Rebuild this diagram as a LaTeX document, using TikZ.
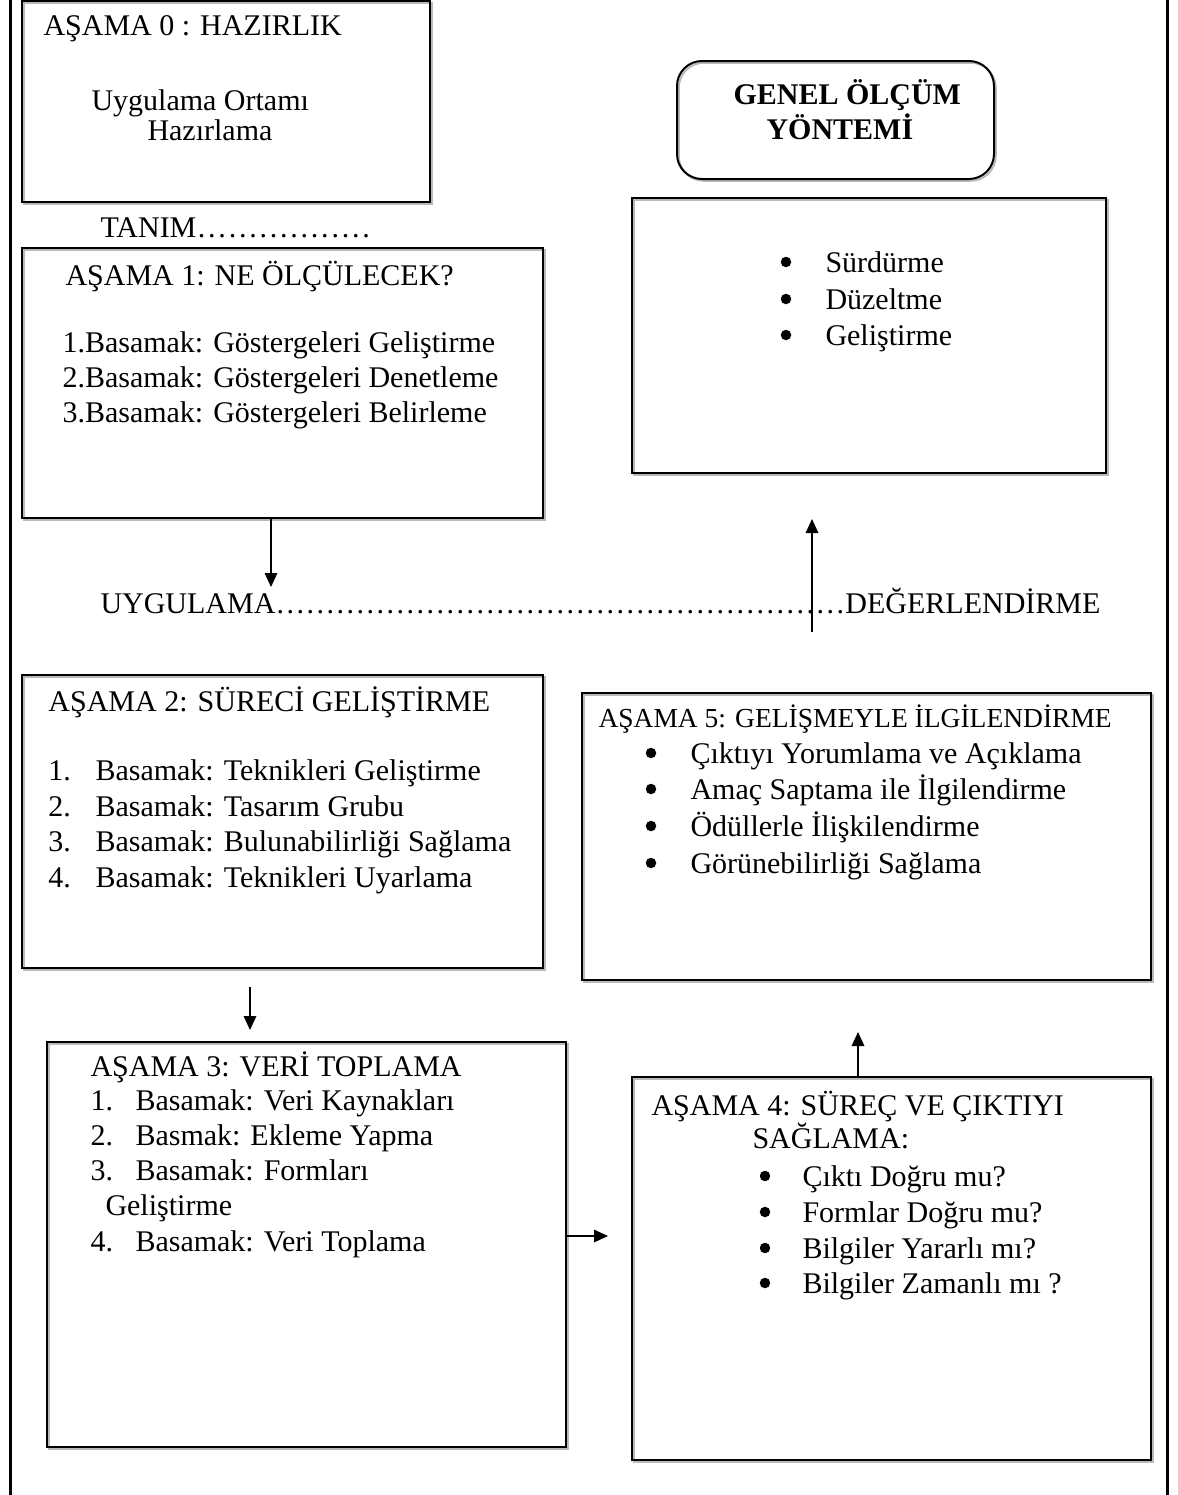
\documentclass[tikz,border=0pt]{standalone}
\usepackage{fontspec}
\setmainfont{Liberation Serif}
\usetikzlibrary{arrows.meta,fit}
\tikzset{
  box/.style={draw, line width=0.8pt, inner sep=0pt,
    preaction={draw=gray!55, line width=0.8pt, transform canvas={shift={(0.7pt,-0.7pt)}}}},
  txt/.style={anchor=base west, inner sep=0pt, font=\fontsize{12pt}{14pt}\selectfont},
  bul/.style={circle, fill=black, draw=none, inner sep=0pt, minimum size=4.2pt},
  conn/.style={line width=0.7pt, -{Triangle[length=5.6pt,width=5pt]}},
  frameline/.style={line width=1.2pt}
}
\newcommand{\dotrun}[1]{\hbox to #1{\xleaders\hbox to 4pt{\hss.\hss}\hfill}}
\begin{document}
\begin{tikzpicture}[x=0.4pt,y=-0.4pt]
\useasboundingbox (0,0) rectangle (1178,1495);
% outer frame
\draw[frameline] (10,0) -- (10,1495);
\draw[frameline] (1167,0) -- (1167,1495);

% Box 0
\node[box, fit={(22,1)(430,202)}] (b0) {};
\node[txt] (t0) at (43,35) {AŞAMA 0 : HAZIRLIK};
\node[txt] (t0a) at (91,110) {Uygulama Ortamı};
\node[txt] (t0b) at (147,140) {Hazırlama};
\node[txt] (tanim) at (100,237) {TANIM\dotrun{70pt}};

% Box 1
\node[box, fit={(22,248)(543,518)}] (b1) {};
\node[txt] (t1) at (65,285) {AŞAMA 1: NE ÖLÇÜLECEK?};
\node[txt] (t1a) at (62,352) {1.Basamak: Göstergeleri Geliştirme};
\node[txt] (t1b) at (62,387) {2.Basamak: Göstergeleri Denetleme};
\node[txt] (t1c) at (62,422) {3.Basamak: Göstergeleri Belirleme};

% Genel olcum
\node[box, rounded corners=10pt, fit={(677,61)(994,179)}] (gen) {};
\node[txt, font=\fontsize{12pt}{14pt}\selectfont\bfseries] (g1) at (733,104) {GENEL ÖLÇÜM};
\node[txt, font=\fontsize{12pt}{14pt}\selectfont\bfseries] (g2) at (766,139) {YÖNTEMİ};

% Box R
\node[box, fit={(632,198)(1106,473)}] (br) {};
\node[bul] (rb1) at (786,262) {};
\node[txt] (rt1) at (825,272) {Sürdürme};
\node[bul] (rb2) at (786,299) {};
\node[txt] (rt2) at (825,309) {Düzeltme};
\node[bul] (rb3) at (786,335) {};
\node[txt] (rt3) at (825,345) {Geliştirme};

% arrows middle
\coordinate (a1) at (271,587);
\draw[conn] (b1.south -| a1) -- (a1);
\node[txt] (mid) at (100,613) {UYGULAMA\dotrun{228pt}DEĞERLENDİRME};
\coordinate (u0) at (812,632);
\coordinate (u1) at (812,519);
\draw[conn] (u0) -- (u1);

% Box 2
\node[box, fit={(22,675)(543,968)}] (b2) {};
\node[txt] (t2) at (48,711) {AŞAMA 2: SÜRECİ GELİŞTİRME};
\node[txt] (n2a) at (48,780) {1.};
\node[txt] (t2a) at (95,780) {Basamak: Teknikleri Geliştirme};
\node[txt] (n2b) at (48,816) {2.};
\node[txt] (t2b) at (95,816) {Basamak: Tasarım Grubu};
\node[txt] (n2c) at (48,851) {3.};
\node[txt] (t2c) at (95,851) {Basamak: Bulunabilirliği Sağlama};
\node[txt] (n2d) at (48,887) {4.};
\node[txt] (t2d) at (95,887) {Basamak: Teknikleri Uyarlama};

% Box 5
\node[box, fit={(582,693)(1151,980)}] (b5) {};
\node[txt, font=\fontsize{11pt}{13pt}\selectfont] (t5) at (598,727) {AŞAMA 5: GELİŞMEYLE İLGİLENDİRME};
\node[bul] (b5a) at (651,753) {};
\node[txt] (t5a) at (690,763) {Çıktıyı Yorumlama ve Açıklama};
\node[bul] (b5b) at (651,789) {};
\node[txt] (t5b) at (690,799) {Amaç Saptama ile İlgilendirme};
\node[bul] (b5c) at (651,826) {};
\node[txt] (t5c) at (690,836) {Ödüllerle İlişkilendirme};
\node[bul] (b5d) at (651,863) {};
\node[txt] (t5d) at (690,873) {Görünebilirliği Sağlama};

% arrow 2
\coordinate (a2s) at (250,987);
\coordinate (a2e) at (250,1030);
\draw[conn] (a2s) -- (a2e);

% Box 3
\node[box, fit={(47,1042)(566,1447)}] (b3) {};
\node[txt] (t3) at (90,1076) {AŞAMA 3: VERİ TOPLAMA};
\node[txt] (n3a) at (90,1110) {1.};
\node[txt] (t3a) at (135,1110) {Basamak: Veri Kaynakları};
\node[txt] (n3b) at (90,1145) {2.};
\node[txt] (t3b) at (135,1145) {Basmak: Ekleme Yapma};
\node[txt] (n3c) at (90,1180) {3.};
\node[txt] (t3c) at (135,1180) {Basamak: Formları};
\node[txt] (t3c2) at (105,1215) {Geliştirme};
\node[txt] (n3d) at (90,1251) {4.};
\node[txt] (t3d) at (135,1251) {Basamak: Veri Toplama};

% Box 4
\node[box, fit={(632,1077)(1151,1460)}] (b4) {};
\node[txt] (t4) at (651,1115) {AŞAMA 4: SÜREÇ VE ÇIKTIYI};
\node[txt] (t4s) at (752,1148) {SAĞLAMA:};
\node[bul] (b4a) at (765,1176) {};
\node[txt] (t4a) at (802,1186) {Çıktı Doğru mu?};
\node[bul] (b4b) at (765,1212) {};
\node[txt] (t4b) at (802,1222) {Formlar Doğru mu?};
\node[bul] (b4c) at (765,1248) {};
\node[txt] (t4c) at (802,1258) {Bilgiler Yararlı mı?};
\node[bul] (b4d) at (765,1283) {};
\node[txt] (t4d) at (802,1293) {Bilgiler Zamanlı mı ?};

% arrows bottom
\coordinate (a3) at (608,1236);
\draw[conn] (a3 -| b3.east) -- (a3);
\coordinate (a4) at (858,1032);
\draw[conn] (a4 |- b4.north) -- (a4);
\end{tikzpicture}
\end{document}
